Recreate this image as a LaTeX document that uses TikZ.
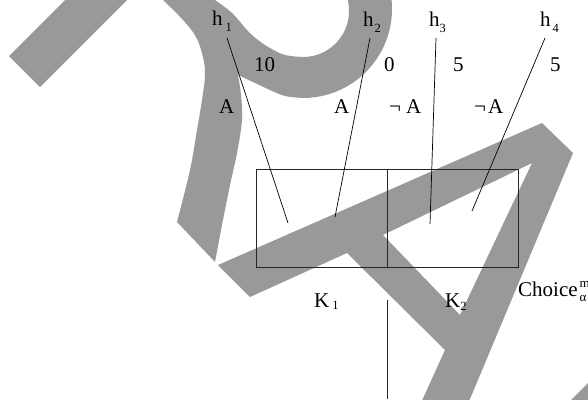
\documentclass[tikz,border=0pt]{standalone}
\usepackage{fontspec}
\setmainfont{Liberation Serif}
\newcommand\lsub[2][6pt]{\raisebox{-#1}{\fontsize{12.5}{12.5}\selectfont #2}}
\definecolor{wmgray}{RGB}{153,153,153}
\begin{document}
\begin{tikzpicture}[x=1pt,y=1pt,yscale=-1,
  wm/.style={fill=wmgray},
  lbl/.style={anchor=base west, inner sep=0pt, font=\fontsize{21}{25}\selectfont},
  box/.style={draw=black!85, line width=0.9pt, inner sep=0pt, minimum width=131pt, minimum height=98pt},
  conn/.style={draw=black, line width=0.7pt}]
\useasboundingbox (0,0) rectangle (588,399);
\clip (0,0) rectangle (588,399);
% watermark strokes
\fill[wm] (75,-10) -- (137,-10) -- (40,87) -- (9,56) -- cycle;
\fill[wm] (153,-10) -- plot[smooth, tension=0.6] coordinates {(163,0) (183,20) (196,37) (203,57) (205,75) (202,100) (197,130) (190,170) (177,222)}
  -- (215,262)
  -- plot[smooth, tension=0.6] coordinates {(215,262) (222,225) (230,185) (237,153) (242,120) (241,95) (238,75)}
  -- plot[smooth, tension=0.6] coordinates {(238,75) (255,83) (270,90) (285,96) (303,98)}
  -- plot[domain=90:-25, samples=50] ({303+89*cos(\x)},{9+89*sin(\x)})
  -- plot[domain=-25:90, samples=50] ({303+46*cos(\x)},{11+46*sin(\x)})
  -- plot[smooth, tension=0.6] coordinates {(303,57) (285,55) (270,48) (258,40) (247,30) (232,13) (215,0) (201,-10)}
  -- cycle;
\fill[wm, even odd rule] (218,265) -- (542,123) -- (573,153) -- (467.5,405) -- (420,405) -- (445,350) -- (347,253) -- (250,297) -- cycle
  (383,235) -- (532,163) -- (460,315) -- cycle;
\fill[wm] (571,400) -- (590,381) -- (590,400) -- cycle;
% boxes
\node[box] (b1) at (321.5,218) {};
\node[box] (b2) at (452.5,218) {};
% labels
\node[lbl] (h1) at (212,25) {h\kern3pt\lsub{1}};
\node[lbl] (h2) at (363,26) {h\kern1pt\lsub{2}};
\node[lbl] (h3) at (429,26) {h\lsub{3}};
\node[lbl] (h4) at (540,26) {h\kern2pt\lsub{4}};
\node[lbl] (v1) at (254,71) {10};
\node[lbl] (v2) at (384,71) {0};
\node[lbl] (v3) at (453,71) {5};
\node[lbl] (v4) at (550,71) {5};
\node[lbl] (a1) at (219,113) {A};
\node[lbl] (a2) at (334,113) {A};
\node[lbl] (a3) at (389,113) {¬\kern5pt A};
\node[lbl] (a4) at (474,113) {¬\kern2pt A};
\node[lbl] (k1) at (314,307) {K\kern3pt\lsub[2.5pt]{1}};
\node[lbl] (k2) at (445,307) {K\lsub[3pt]{2}};
\node[lbl] (ch) at (518,296) {Choice\kern2pt\rlap{\raisebox{9pt}{\fontsize{13}{13}\selectfont m}}\raisebox{-5pt}{\fontsize{13}{13}\selectfont α}};
% connectors
\coordinate (h1s) at (227,38); \coordinate (h1e) at (288,223);
\coordinate (h2s) at (370,38); \coordinate (h2e) at (335,217);
\coordinate (h3s) at (436,38); \coordinate (h3e) at (430,224);
\coordinate (h4s) at (545,38); \coordinate (h4e) at (472,211);
\coordinate (vs) at (387,300); \coordinate (ve) at (387,399);
\draw[conn] (h1s) -- (h1e);
\draw[conn] (h2s) -- (h2e);
\draw[conn] (h3s) -- (h3e);
\draw[conn] (h4s) -- (h4e);
\draw[conn, line width=0.9pt, draw=black!85] (vs) -- (ve);
\end{tikzpicture}
\end{document}
